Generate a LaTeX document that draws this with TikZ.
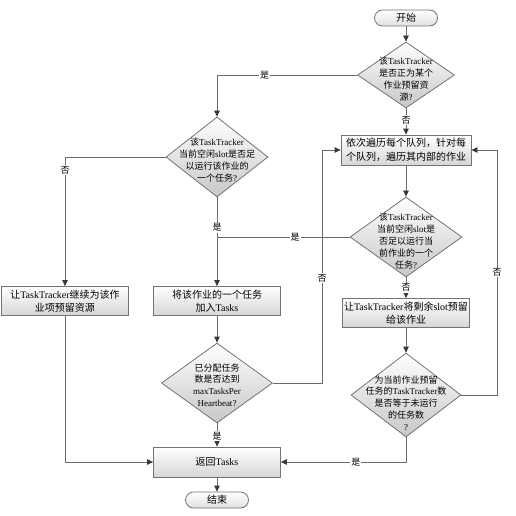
\documentclass[tikz,border=0pt]{standalone}
\usepackage{fontspec}
\setmainfont{Liberation Serif}
\newfontfamily\cjk{Noto Sans CJK SC}
\usepackage{tikz}
\usetikzlibrary{arrows.meta, shapes.geometric}

% Chinese characters get the CJK font, the rest stays in the main font
\XeTeXinterchartokenstate=1
\newXeTeXintercharclass\cjkclass
\newcount\cjkcode
\cjkcode="4E00
\loop
  \XeTeXcharclass\cjkcode=\cjkclass
\ifnum\cjkcode<"9FFF
  \advance\cjkcode by 1
\repeat
\XeTeXcharclass"FF0C=\cjkclass
\XeTeXinterchartoks 0 \cjkclass={\cjk}
\XeTeXinterchartoks 4095 \cjkclass={\cjk}
\XeTeXinterchartoks \cjkclass 0={\rmfamily}
\XeTeXinterchartoks \cjkclass 4095={\rmfamily}

\begin{document}
\begin{tikzpicture}[x=1pt, y=-1pt, line width=0.8pt,
    >={Triangle[length=6pt, width=5.5pt, color=black!78]},
    every node/.style={font=\fontsize{10}{13.5}\selectfont},
    term/.style={draw=black!55, rounded corners=8pt, minimum width=63pt, minimum height=16pt, inner sep=0pt, top color=white, bottom color=black!12},
    proc/.style={draw=black!55, rectangle, minimum width=127pt, minimum height=29pt, inner sep=1pt, align=center, top color=white, bottom color=black!16},
    dec/.style={draw=black!55, diamond, inner sep=0pt, top color=white, bottom color=black!22},
    dtext/.style={align=center, font=\fontsize{9}{11.8}\selectfont},
    yn/.style={fill=white, inner sep=1pt, font=\fontsize{9}{10}\selectfont},
    flow/.style={draw=black!58, ->},
    line/.style={draw=black!58}]
    \useasboundingbox (0,0) rectangle (515,516);

    % Nodes
    \node[term] (start) at (406, 18) {开始};
    \node[dec, minimum width=97pt, minimum height=66pt,
        label={[dtext, yshift=-4pt]center:{该TaskTracker\\是否正为某个\\作业预留资\\源?}}] (d1) at (406, 75) {};
    \node[proc, minimum width=130pt, minimum height=30pt] (b1) at (406, 150) {依次遍历每个队列，针对每\\个队列，遍历其内部的作业};
    \node[dec, minimum width=102pt, minimum height=80pt,
        label={[dtext, yshift=-3pt]center:{该TaskTracker\\当前空闲slot是否足\\以运行该作业的\\一个任务?}}] (d2) at (217, 157) {};
    \node[dec, minimum width=112pt, minimum height=80pt,
        label={[dtext, yshift=-4pt]center:{该TaskTracker\\当前空闲slot是\\否足以运行当\\前作业的一个\\任务?}}] (d3) at (406, 237) {};
    \node[proc] (b3) at (406, 313) {让TaskTracker将剩余slot预留\\给该作业};
    \node[dec, minimum width=110pt, minimum height=84pt,
        label={[dtext, yshift=-8pt]center:{为当前作业预留\\任务的TaskTracker数\\是否等于未运行\\的任务数\\?}}] (d4) at (406, 395) {};
    \node[proc] (b2) at (65, 301) {让TaskTracker继续为该作\\业项预留资源};
    \node[proc] (badd) at (217, 301) {将该作业的一个任务\\加入Tasks};
    \node[dec, minimum width=111pt, minimum height=80pt,
        label={[dtext, yshift=-2pt]center:{已分配任务\\数是否达到\\maxTasksPer\\Heartbeat?}}] (d5) at (217, 383) {};
    \node[proc, minimum height=30pt] (ret) at (217, 462) {返回Tasks};
    \node[term] (stop) at (217, 500) {结束};

    \coordinate (lt) at (322, 150);
    \coordinate (rt) at (497, 150);

    % Directed edges
    \draw[flow] (start) -- (d1);
    \draw[flow] (d1) -- node[yn, pos=0.45] {否} (b1);
    \draw[flow] (d1.west) -| node[yn, pos=0.33] {是} (d2.north);
    \draw[flow] (d2.west) -| node[yn, pos=0.55] {否} (b2.north);
    \draw[flow] (d2.south) -- node[yn, pos=0.34] {是} (badd.north);
    \draw[line] (d3.west) -- node[yn, pos=0.41] {是} (d3.west -| d2.south);
    \draw[flow] (b1) -- (d3);
    \draw[flow] (d3) -- node[yn] {否} (b3);
    \draw[flow] (b3) -- (d4);
    \draw[flow] (badd) -- (d5);
    \draw[flow] (d5) -- node[yn, pos=0.54] {是} (ret);
    \draw[flow] (d5.east) -| node[yn, pos=0.725] {否} (lt) -- (b1.west);
    \draw[flow] (d4.east) -| node[yn, pos=0.75] {否} (rt) -- (b1.east);
    \draw[flow] (d4.south) |- node[yn, pos=0.7] {是} (ret.east);
    \draw[flow] (b2.south) |- (ret.west);
    \draw[flow] (ret) -- (stop);
\end{tikzpicture}
\end{document}
